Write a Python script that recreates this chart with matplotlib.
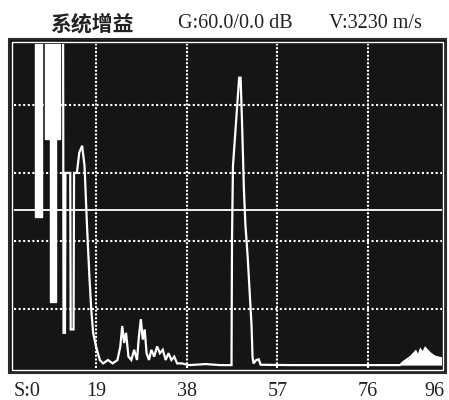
import matplotlib.pyplot as plt
import matplotlib.patches as mpatches

plt.rcParams['font.family'] = ['Liberation Serif', 'Noto Sans CJK SC']

# saturated initial-pulse blocks: left edge, right edge (S) and lower edge (%)
block_left = [6.3, 8.3, 9.4]
block_right = [7.7, 11.5, 10.6]
block_floor = [47, 70, 22]

# A-scan trace: sound path (S) and echo amplitude (% of screen height)
trace_s = [12.1, 12.2, 12.5, 12.6, 13.6, 13.7, 14.3, 14.4, 15.0, 15.5, 16.1,
           16.6, 17.1, 17.6, 18.0, 18.4, 19.0, 19.8, 20.5, 21.5, 22.5, 23.5,
           24.1, 24.5, 24.9, 25.3, 25.8, 26.4, 27.0, 27.6, 28.0, 28.4, 28.8,
           29.2, 29.6, 30.1, 30.6, 31.2, 31.8, 32.4, 33.0, 33.6, 34.2, 34.8,
           35.4, 36.0, 37.0, 38.5, 42.0, 45.0, 47.4, 47.5, 47.7, 48.0, 48.6,
           49.0, 49.3, 49.6, 49.8, 50.0, 50.3, 50.8, 51.2, 51.6, 51.8, 52.0,
           52.6, 53.1, 53.5, 60.0, 70.0, 82.7, 83.5, 84.0, 85.0, 86.0, 86.5,
           87.0, 87.5, 88.0, 89.0, 90.0, 91.4]
trace_amp = [110, 13, 13, 60, 60, 14, 14, 60, 60, 66, 68,
             62, 45, 30, 20, 13, 9, 5, 4, 5, 4, 5,
             9, 15, 10, 13, 6, 5, 8, 5, 12, 17, 11,
             14, 7, 5, 8, 6, 9, 7, 8, 5, 7, 5,
             6, 4, 4, 3.5, 3.8, 3.5, 3.5, 40, 62, 68, 80,
             88, 88, 75, 65, 55, 45, 35, 25, 15, 6, 4,
             5, 5.2, 3.6, 3.5, 3.5, 3.5, 4.5, 5, 6, 7.5, 6,
             8, 7, 8.5, 7, 6, 5.5]

grid_s = [19, 38, 57, 76]
grid_amp = [20, 40, 60, 80]
gate_amp = 49
baseline_amp = 3.5

tick_pos = [4.5, 19, 38, 57, 76, 90]
tick_labels = ['S:0', '19', '38', '57', '76', '96']

W, H = 449, 400
fig = plt.figure(figsize=(W / 100, H / 100), dpi=100)
fig.patch.set_facecolor('white')

# screen bezel: dark outer frame with a thin white inner rule
fig.patches.append(mpatches.Rectangle((9 / W, 1 - 373 / H), 437 / W, 334 / H,
                                      transform=fig.transFigure, facecolor='#141414',
                                      edgecolor='#2a2a2a', lw=1.5, zorder=-3))
fig.patches.append(mpatches.Rectangle((12 / W, 1 - 370 / H), 431 / W, 328 / H,
                                      transform=fig.transFigure, facecolor='none',
                                      edgecolor='white', lw=1.0, zorder=-2))

ax = fig.add_axes([14 / W, 1 - 368 / H, 427.5 / W, 324 / H])
ax.set_facecolor('#151515')
ax.set_xlim(1.82, 91.4)
ax.set_ylim(2.65, 97.9)

for s in grid_s:
    ax.axvline(s, color='white', lw=1.5, linestyle=(0, (1, 0.8)))
for a in grid_amp:
    ax.axhline(a, color='white', lw=1.5, linestyle=(0, (1, 1.2)))
ax.axhline(gate_amp, color='white', lw=1.3)

widths = [r - l for l, r in zip(block_left, block_right)]
heights = [110 - f for f in block_floor]
ax.bar(block_left, heights, width=widths, bottom=block_floor, align='edge',
       color='white', edgecolor='white', lw=1.0)
ax.plot(trace_s, trace_amp, color='white', lw=1.6, solid_joinstyle='miter')

# grass noise at the far end of the sweep shows as a filled mound
far = [i for i, s in enumerate(trace_s) if s >= 82.7]
ax.fill_between([trace_s[i] for i in far], baseline_amp,
                [trace_amp[i] for i in far], color='white', lw=0)

for sp in ax.spines.values():
    sp.set_visible(False)
ax.set_yticks([])
ax.set_xticks(tick_pos)
ax.set_xticklabels(tick_labels, fontsize=14.5, color='#222222')
ax.tick_params(axis='x', length=0, pad=10)

fig.text(92 / W, 1 - 24 / H, '系统增益', ha='center', va='center', fontsize=15,
         family=['Noto Sans CJK SC'], weight='bold', color='#222222')
fig.text(235 / W, 1 - 24 / H, 'G:60.0/0.0 dB', ha='center', va='center',
         fontsize=14.5, color='#222222')
fig.text(375 / W, 1 - 24 / H, 'V:3230 m/s', ha='center', va='center',
         fontsize=14.5, color='#222222')

fig.savefig('out.png', dpi=100)
